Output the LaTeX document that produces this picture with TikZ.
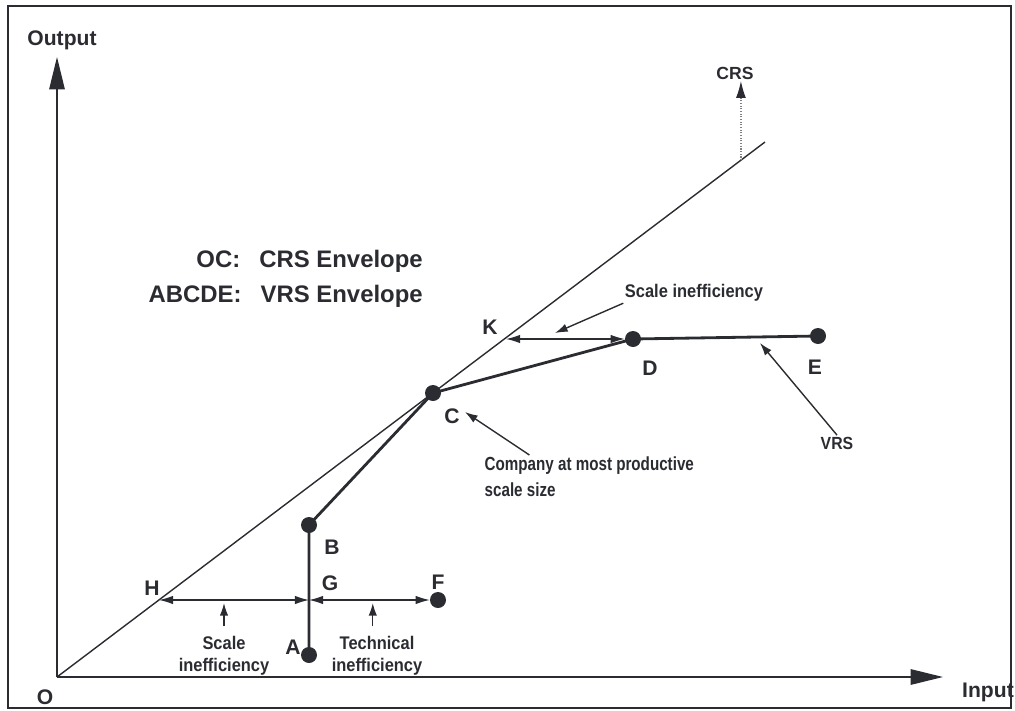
\documentclass[tikz,border=0pt]{standalone}
\usepackage{fontspec}
\setmainfont{Liberation Sans}
\newfontfamily\narrowfont[FakeStretch=0.9]{Liberation Sans}
\newfontfamily\narrowerfont[FakeStretch=0.8]{Liberation Sans}
\usetikzlibrary{arrows.meta, positioning, calc}
\definecolor{ink}{HTML}{2A2C31}

\begin{document}
\begin{tikzpicture}[x=0.25mm, y=-0.25mm]
\tikzstyle{dot} = [circle, fill=ink, inner sep=0pt, minimum size=4mm]
\tikzstyle{pt} = [font=\bfseries\fontsize{15}{17}\selectfont, text=ink, inner sep=1pt]
\tikzstyle{note} = [font=\narrowfont\bfseries\fontsize{13}{15.6}\selectfont, text=ink, inner sep=1pt, align=center]
\tikzstyle{legend} = [font=\bfseries\fontsize{17}{19}\selectfont, text=ink, anchor=east, inner sep=0pt]
\tikzstyle{axis} = [-{Triangle[length=23pt, width=11pt]}, line width=1pt, draw=ink]
\tikzstyle{envelope} = [line width=2pt, draw=ink]
\tikzstyle{gap} = [{Latex[length=10pt, width=6pt]}-{Latex[length=10pt, width=6pt]}, line width=0.8pt, draw=ink]
\tikzstyle{pointer} = [-{Latex[length=9pt, width=6pt]}, line width=1pt, draw=ink]
\tikzstyle{crspointer} = [-{Latex[length=12pt, width=7pt, color=ink]}, densely dotted, line width=0.9pt, draw=ink!60]
\useasboundingbox (0,0) rectangle (1015,711);
\draw[line width=1.4pt, draw=ink] (8,6) rectangle (1011,708);
% axes
\coordinate (O) at (57,677);
\coordinate (ytip) at (57,57);
\coordinate (xtip) at (943,677);
\draw[axis] (O) -- (ytip);
\draw[axis] (O) -- (xtip);
\node[pt] (ylbl) at (62,40) {Output};
\node[pt] (xlbl) at (988,692) {Input};
\node[pt] (Olbl) at (45,697) {O};
% CRS frontier
\coordinate (crsend) at (765,142);
\draw[line width=1pt, draw=ink] (O) -- (crsend);
\coordinate (crsfoot) at ($(O)!0.966!(crsend)$);
\node[pt, font=\bfseries\fontsize{12.5}{14}\selectfont] (crslbl) at (735,73) {CRS};
\draw[crspointer] (crsfoot) -- (crsfoot |- crslbl.south);
% VRS frontier
\node[dot] (A) at (309,655) {};
\node[dot] (B) at (309,525) {};
\node[dot] (C) at (433,393) {};
\node[dot] (D) at (633,339) {};
\node[dot] (E) at (818,336) {};
\node[dot] (F) at (438,600) {};
\draw[envelope] (A.center) -- (B.center) -- (C.center) -- (D.center) -- (E.center);
\coordinate (H) at (159,600);
\coordinate (G) at (309,600);
\coordinate (K) at (506,339);
\node[pt] (Albl) at (293,647) {A};
\node[pt] (Blbl) at (332,547) {B};
\node[pt] (Clbl) at (452,416) {C};
\node[pt] (Dlbl) at (650,368) {D};
\node[pt] (Elbl) at (815,367) {E};
\node[pt] (Flbl) at (438,582) {F};
\node[pt] (Glbl) at (330,583) {G};
\node[pt] (Hlbl) at (152,588) {H};
\node[pt] (Klbl) at (490,327) {K};
% inefficiencies
\draw[gap] (H) -- (G);
\draw[gap] (G) -- (F.west);
\draw[gap] (K) -- (D.west);
\node[note] (scaletop) at (694,293) {Scale inefficiency};
\coordinate (scaletip) at (555,333);
\draw[pointer] (scaletop.south west) -- (scaletip);
\node[note] (scalelbl) at (224,656) {Scale\\inefficiency};
\draw[pointer] ([yshift=6pt]scalelbl.north) -- (scalelbl.north |- 0,603);
\node[note] (techlbl) at (377,656) {Technical\\inefficiency};
\draw[pointer] ([xshift=-3pt, yshift=6pt]techlbl.north) -- ([xshift=-3pt]techlbl.north |- 0,603);
% annotations
\node[note, font=\narrowerfont\bfseries\fontsize{13.5}{18.5}\selectfont, align=left, anchor=north west] (company) at (483,455) {Company at most productive\\scale size};
\coordinate (ctip) at (465,412);
\draw[pointer] ([xshift=33pt]company.north west) -- (ctip);
\node[note, font=\narrowfont\bfseries\fontsize{12.5}{14}\selectfont] (vrslbl) at (837,443) {VRS};
\coordinate (vrstip) at (760,343);
\draw[pointer] (vrslbl.north) -- (vrstip);
\node[legend] (oc) at (423,261) {OC:\hspace{0.8em}CRS Envelope};
\node[legend] (abcde) at (423,296) {ABCDE:\hspace{0.8em}VRS Envelope};
\end{tikzpicture}
\end{document}
